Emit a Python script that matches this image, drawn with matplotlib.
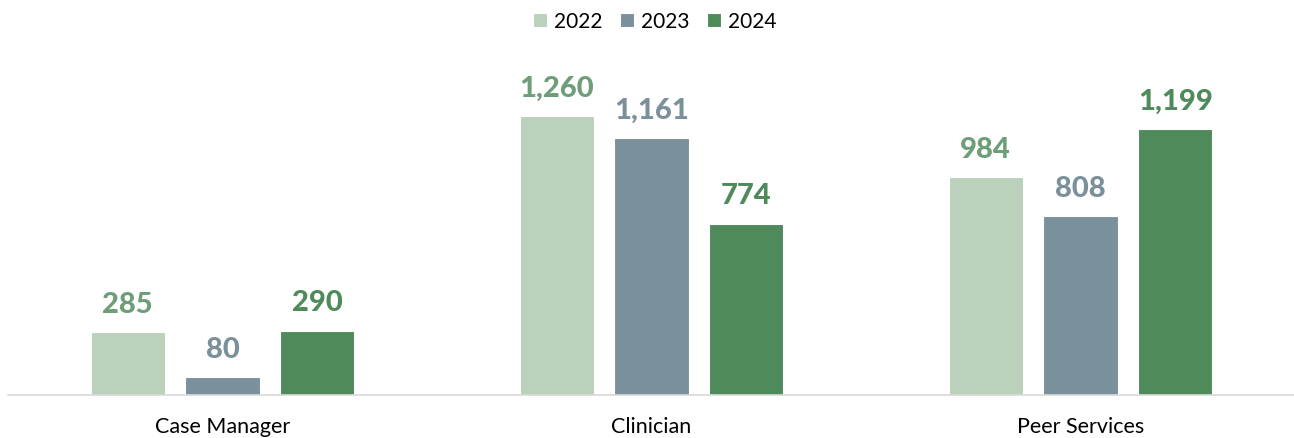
import matplotlib.pyplot as plt
import numpy as np

categories = ["Case Manager", "Clinician", "Peer Services"]
years = ["2022", "2023", "2024"]
v2022 = [285, 1260, 984]
v2023 = [80, 1161, 808]
v2024 = [290, 774, 1199]

bar_colors = ["#BBD1BC", "#7A909B", "#4F8A5B"]
label_colors = ["#6E9E78", "#7A909B", "#4F8A5B"]

plt.rcParams['font.family'] = ['Lato', 'DejaVu Sans']

fig = plt.figure(figsize=(12.94, 4.39), dpi=100)
ax = fig.add_axes([8 / 1294, 43 / 439, 1287 / 1294, 355 / 439])

x = np.arange(len(categories))
offsets = [-0.2214, 0.0, 0.2214]
width = 0.1725

for vals, yr, off, c, lc in zip([v2022, v2023, v2024], years, offsets, bar_colors, label_colors):
    bars = ax.bar(x + off, vals, width, color=c, edgecolor="white", linewidth=0.8, label=yr)
    for b, v in zip(bars, vals):
        ax.annotate(f"{v:,}", (b.get_x() + b.get_width() / 2, v),
                    xytext=(0, 11), textcoords="offset points",
                    ha="center", va="bottom", fontsize=21, fontweight="black", color=lc)

ax.set_xlim(-0.5, 2.5)
ax.set_ylim(0, 1603)
ax.set_xticks(x)
ax.set_xticklabels(categories, fontsize=15.5)
ax.tick_params(axis="x", length=0, pad=15)
ax.set_yticks([])
for s in ["top", "right", "left"]:
    ax.spines[s].set_visible(False)
ax.spines["bottom"].set_color("#D9D9D9")
ax.spines["bottom"].set_linewidth(1.2)

fig.legend(loc="upper center", bbox_to_anchor=(0.506, 1.015), ncol=3, frameon=False,
           fontsize=15, handlelength=0.7, handleheight=0.7, handletextpad=0.35,
           columnspacing=0.8)

fig.savefig("out.png", dpi=100)
